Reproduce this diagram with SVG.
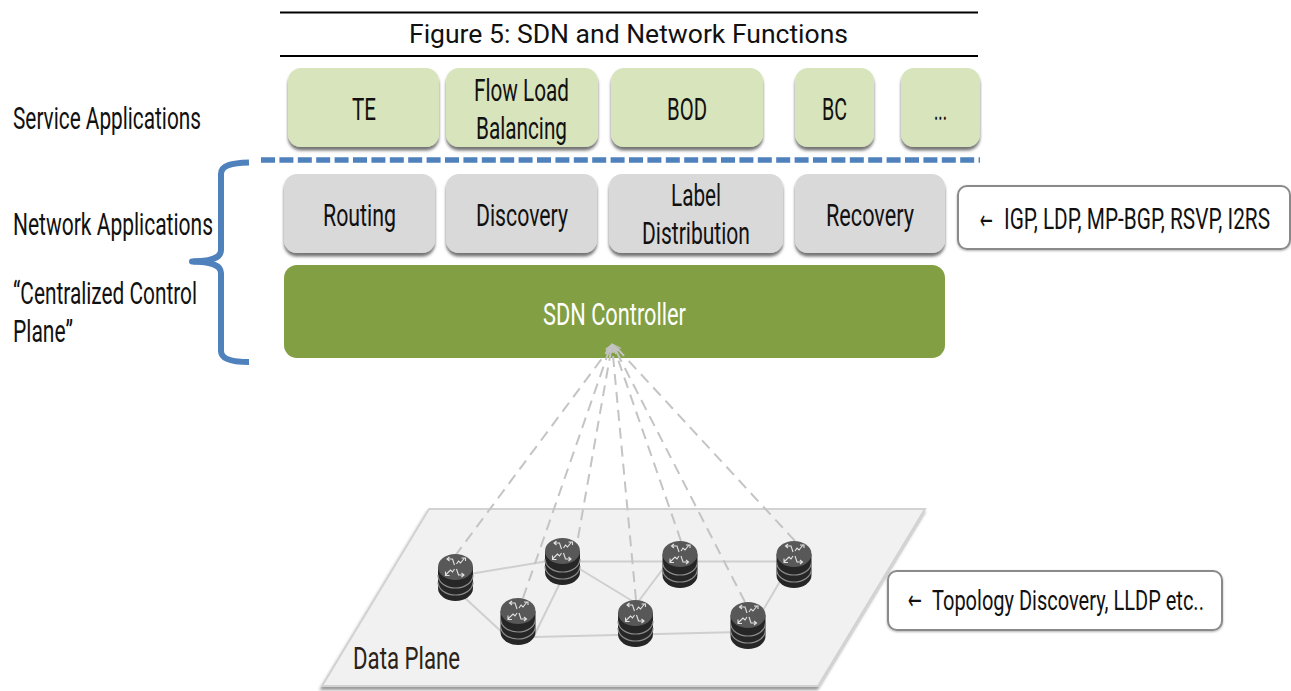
<svg xmlns="http://www.w3.org/2000/svg" width="1291" height="691" viewBox="0 0 1291 691">
<style>
text{font-family:"Roboto","Liberation Sans",sans-serif;fill:#111;font-size:31px;font-weight:400}
.arrow{font-family:"DejaVu Sans",sans-serif;font-size:26px;font-weight:400}
.green{fill:#d8e4bc;filter:url(#sh)}
.gray{fill:#d9d9d9;filter:url(#sh)}
.call{fill:#fff;stroke:#8a8a8a;stroke-width:2;filter:url(#sh2)}
.link{stroke:#cfcfcf;stroke-width:2;fill:none}
.ctl{stroke:#c4c4c4;stroke-width:2;fill:none;stroke-dasharray:11 7;marker-end:url(#ah)}
.rule{stroke:#000;stroke-width:2}
</style>
<defs>
<filter id="sh" x="-10%" y="-10%" width="120%" height="125%"><feDropShadow dx="0" dy="3.500" stdDeviation="1.800" flood-color="#000" flood-opacity=".55"/></filter>
<filter id="sh2" x="-5%" y="-10%" width="110%" height="125%"><feDropShadow dx="0" dy="1" stdDeviation="1" flood-color="#000" flood-opacity=".3"/></filter>
<filter id="sh3" x="-5%" y="-5%" width="110%" height="110%"><feDropShadow dx="-1" dy="3" stdDeviation="1.500" flood-color="#000" flood-opacity=".4"/></filter>
<marker id="ah" viewBox="0 0 10 10" refX="9" refY="5" markerWidth="11" markerHeight="9" orient="auto" markerUnits="userSpaceOnUse"><path d="M1 2L9 5L1 8" fill="none" stroke="#c4c4c4" stroke-width="1.400"/></marker>
<g id="router">
<path d="M-17.500 13V34A17.500 13 0 0 0 17.500 34V13Z" fill="#262626"/>
<path d="M-17.500 21A17.500 13 0 0 0 17.500 21M-17.500 28A17.500 13 0 0 0 17.500 28" fill="none" stroke="#8c8c8c" stroke-width="1.200"/>
<ellipse cx="0" cy="13" rx="17.500" ry="13" fill="#585858"/>
<path d="M-1 11L-3 5H-8M-6 3L-8.500 5L-6 7M1 10L3 7L5 9L9 4M6 4H10V7M-1 15L-3 18L-5 16L-10 21M-10 17.500V21.500H-6M1 15L3 21H8M6 19L8.500 21L6 23" fill="none" stroke="#e2e2e2" stroke-width="1.100"/>
</g>
</defs>
<rect width="1291" height="691" fill="#fff"/>
<g id="title">
<line class="rule" x1="280" y1="12.500" x2="978" y2="12.500"/>
<line class="rule" x1="280" y1="56" x2="978" y2="56"/>
<text x="409" y="43" textLength="439" lengthAdjust="spacingAndGlyphs" style="font-size:26px">Figure 5: SDN and Network Functions</text>
</g>
<g id="labels">
<text x="13" y="129" textLength="188" lengthAdjust="spacingAndGlyphs">Service Applications</text>
<text x="13" y="235" textLength="200" lengthAdjust="spacingAndGlyphs">Network Applications</text>
<text x="13" y="304" textLength="184" lengthAdjust="spacingAndGlyphs">“Centralized Control</text>
<text x="13" y="342" textLength="60" lengthAdjust="spacingAndGlyphs">Plane”</text>
</g>
<g id="node-te"><rect class="green" x="288" y="68" width="151" height="79" rx="13"/><text x="352" y="120" textLength="24" lengthAdjust="spacingAndGlyphs">TE</text></g>
<g id="node-flow"><rect class="green" x="446" y="68" width="152" height="79" rx="13"/><text x="474" y="101" textLength="95" lengthAdjust="spacingAndGlyphs">Flow Load</text><text x="476" y="139" textLength="91" lengthAdjust="spacingAndGlyphs">Balancing</text></g>
<g id="node-bod"><rect class="green" x="611" y="68" width="152" height="79" rx="13"/><text x="667" y="120" textLength="40" lengthAdjust="spacingAndGlyphs">BOD</text></g>
<g id="node-bc"><rect class="green" x="795" y="68" width="79" height="79" rx="13"/><text x="822" y="120" textLength="25" lengthAdjust="spacingAndGlyphs">BC</text></g>
<g id="node-more"><rect class="green" x="901" y="68" width="79" height="79" rx="13"/><text x="934" y="120" textLength="13" lengthAdjust="spacingAndGlyphs">...</text></g>
<g id="node-routing"><rect class="gray" x="284" y="174" width="151" height="79" rx="13"/><text x="323" y="226" textLength="73" lengthAdjust="spacingAndGlyphs">Routing</text></g>
<g id="node-discovery"><rect class="gray" x="446" y="174" width="151" height="79" rx="13"/><text x="476" y="226" textLength="92" lengthAdjust="spacingAndGlyphs">Discovery</text></g>
<g id="node-label"><rect class="gray" x="609" y="174" width="174" height="79" rx="13"/><text x="671" y="206" textLength="50" lengthAdjust="spacingAndGlyphs">Label</text><text x="642" y="244" textLength="108" lengthAdjust="spacingAndGlyphs">Distribution</text></g>
<g id="node-recovery"><rect class="gray" x="795" y="174" width="150" height="79" rx="13"/><text x="826" y="226" textLength="88" lengthAdjust="spacingAndGlyphs">Recovery</text></g>
<g id="node-controller"><rect x="284" y="265" width="661" height="93" rx="13" fill="#82a043"/><text x="543" y="325" textLength="143" lengthAdjust="spacingAndGlyphs" style="fill:#fff">SDN Controller</text></g>
<g id="separator"><line x1="261" y1="160" x2="980" y2="160" stroke="#4f81bd" stroke-width="5.500" stroke-dasharray="14 4.400"/></g>
<g id="brace"><path d="M249 162.500C232 163 221 165 221 174V250C221 258 212 261 193 261.500C212 262 221 265 221 273V351C221 359 232 362 249 362" fill="none" stroke="#4f81bd" stroke-width="6"/><line x1="192" y1="261.500" x2="208" y2="261.500" stroke="#4f81bd" stroke-width="6" stroke-linecap="round"/></g>
<g id="node-igp"><rect class="call" x="958" y="186" width="332" height="63" rx="9"/><text class="arrow" x="980" y="229" textLength="13" lengthAdjust="spacingAndGlyphs">←</text><text transform="translate(1004 229) scale(.66 1)" x="0" y="0" textLength="403" lengthAdjust="spacingAndGlyphs" style="font-size:29px">IGP, LDP, MP-BGP, RSVP, I2RS</text></g>
<g id="node-plane"><path d="M429 509H925L818 686H322Z" fill="#f1f1f1" stroke="#d2d2d2" stroke-width="2" filter="url(#sh3)"/><text x="353" y="669" textLength="107" lengthAdjust="spacingAndGlyphs" style="fill:#2c2218">Data Plane</text></g>
<g id="node-topology"><rect class="call" x="888" y="571" width="334" height="59" rx="9"/><text class="arrow" x="908" y="609" textLength="14" lengthAdjust="spacingAndGlyphs">←</text><text transform="translate(932 610) scale(.66 1)" x="0" y="0" textLength="412" lengthAdjust="spacingAndGlyphs" style="font-size:28px">Topology Discovery, LLDP etc..</text></g>
<g id="connectors">
<g id="links">
<line class="link" x1="470" y1="574" x2="545" y2="561.500"/>
<line class="link" x1="580" y1="561.500" x2="780" y2="561.500"/>
<line class="link" x1="465" y1="598" x2="505" y2="635"/>
<line class="link" x1="560" y1="583" x2="534" y2="636"/>
<line class="link" x1="578" y1="568" x2="634" y2="602"/>
<line class="link" x1="534" y1="637" x2="740" y2="632"/>
<line class="link" x1="638" y1="602" x2="665" y2="566"/>
<line class="link" x1="782" y1="578" x2="762" y2="612"/>
</g>
<g id="control">
<line class="ctl" x1="455" y1="556" x2="612" y2="345"/>
<line class="ctl" x1="523" y1="598" x2="611" y2="345"/>
<line class="ctl" x1="578" y1="538" x2="612" y2="345"/>
<line class="ctl" x1="636" y1="600" x2="612" y2="345"/>
<line class="ctl" x1="681" y1="541" x2="613" y2="345"/>
<line class="ctl" x1="745" y1="602" x2="613" y2="345"/>
<line class="ctl" x1="795" y1="541" x2="614" y2="345"/>
</g>
</g>
<g id="router-1"><use href="#router" x="455.500" y="554"/></g>
<g id="router-2"><use href="#router" x="562.500" y="538"/></g>
<g id="router-3"><use href="#router" x="518" y="598"/></g>
<g id="router-4"><use href="#router" x="635.500" y="600"/></g>
<g id="router-5"><use href="#router" x="680" y="541"/></g>
<g id="router-6"><use href="#router" x="748" y="602"/></g>
<g id="router-7"><use href="#router" x="794" y="541"/></g>
</svg>
